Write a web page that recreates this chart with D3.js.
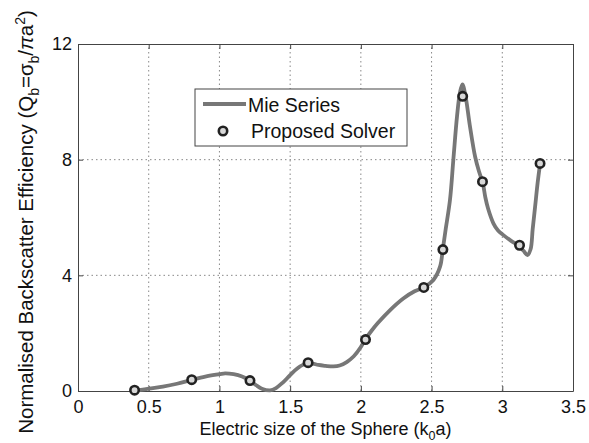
<!DOCTYPE html>
<html lang="en">
<head>
<meta charset="UTF-8">
<title>Backscatter efficiency</title>
<script src="https://d3js.org/d3.v7.min.js"></script>
<style>
  body { margin: 0; background: #fff; }
  svg { font-family: "Liberation Sans", Arial, sans-serif; }
  .grid line { stroke: #888; stroke-dasharray: 1.5 3; stroke-width: 1; }
  .tick-lbl { font-size: 18px; fill: #111; }
  .axis-title { fill: #111; }
  .legend text { font-size: 19.5px; fill: #111; }
</style>
</head>
<body>
<svg id="chart"></svg>
<script>
// Mie series (solid grey curve)
var mieX = [0.4, 0.5, 0.6, 0.7, 0.8, 0.9, 1.0, 1.04, 1.1, 1.16, 1.216, 1.26, 1.3, 1.358, 1.4, 1.45,
            1.5, 1.55, 1.6, 1.624, 1.66, 1.7, 1.75, 1.806, 1.85, 1.9, 1.95, 2.0, 2.03, 2.07, 2.12,
            2.207, 2.3, 2.38, 2.445, 2.513, 2.56, 2.579, 2.6, 2.63, 2.654, 2.68, 2.7, 2.718, 2.74,
            2.77, 2.808, 2.835, 2.862, 2.88, 2.9, 2.937, 2.97, 3.008, 3.06, 3.121, 3.15, 3.178,
            3.2, 3.215, 3.232, 3.25, 3.267];
var mieY = [0.0, 0.08, 0.15, 0.25, 0.38, 0.5, 0.58, 0.61, 0.58, 0.5, 0.36, 0.2, 0.08, 0.02, 0.1, 0.3,
            0.55, 0.78, 0.93, 0.97, 0.95, 0.9, 0.87, 0.85, 0.88, 1.0, 1.2, 1.52, 1.78, 2.05, 2.35,
            2.8, 3.2, 3.45, 3.58, 3.84, 4.3, 4.88, 5.6, 6.6, 8.0, 9.5, 10.3, 10.6, 10.2,
            9.2, 8.1, 7.6, 7.2, 6.7, 6.3, 5.8, 5.55, 5.39, 5.2, 5.0, 4.85, 4.7,
            4.9, 5.6, 6.37, 7.2, 7.85];

// Proposed solver (circle markers)
var solverX = [0.4, 0.804, 1.216, 1.627, 2.033, 2.445, 2.58, 2.72, 2.86, 3.122, 3.267];
var solverY = [0.03, 0.39, 0.36, 0.98, 1.78, 3.58, 4.89, 10.19, 7.24, 5.04, 7.87];

var xTicks = [0, 0.5, 1, 1.5, 2, 2.5, 3, 3.5];
var yTicks = [0, 4, 8, 12];

var width = 589, height = 443;
var m = { left: 78, right: 16, top: 44, bottom: 52 };

var svg = d3.select("#chart").attr("width", width).attr("height", height);

var x = d3.scaleLinear().domain([0, 3.5]).range([m.left, width - m.right]);
var y = d3.scaleLinear().domain([0, 12]).range([height - m.bottom, m.top]);

// grid
var grid = svg.append("g").attr("class", "grid");
grid.selectAll(".gx").data(xTicks.slice(1, -1)).enter().append("line")
    .attr("x1", d => x(d)).attr("x2", d => x(d))
    .attr("y1", y(0)).attr("y2", y(12));
grid.selectAll(".gy").data(yTicks.slice(1, -1)).enter().append("line")
    .attr("x1", x(0)).attr("x2", x(3.5))
    .attr("y1", d => y(d)).attr("y2", d => y(d));

// axes (MATLAB style: inward ticks, box)
var ax = d3.axisBottom(x).tickValues(xTicks).tickSizeInner(-5).tickSizeOuter(0)
    .tickPadding(9).tickFormat(d3.format("~g"));
var gx = svg.append("g").attr("transform", "translate(0," + y(0) + ")").call(ax);
var ay = d3.axisLeft(y).tickValues(yTicks).tickSizeInner(-5).tickSizeOuter(0)
    .tickPadding(10).tickFormat(d3.format("~g"));
var gy = svg.append("g").attr("transform", "translate(" + x(0) + ",0)").call(ay);
var axTop = d3.axisTop(x).tickValues(xTicks).tickSizeInner(-5).tickSizeOuter(0).tickFormat("");
svg.append("g").attr("transform", "translate(0," + y(12) + ")").call(axTop);
var ayR = d3.axisRight(y).tickValues(yTicks).tickSizeInner(-5).tickSizeOuter(0).tickFormat("");
svg.append("g").attr("transform", "translate(" + x(3.5) + ",0)").call(ayR);

svg.selectAll(".domain").attr("stroke", "#444");
svg.selectAll(".tick line").attr("stroke", "#444");
svg.selectAll(".tick text").attr("class", "tick-lbl").attr("font-family", null).attr("font-size", null);
gx.selectAll(".tick text").attr("dy", "0.71em");
gy.selectAll(".tick text").attr("dx", "4");

// Mie curve
var line = d3.line().x(d => x(d[0])).y(d => y(d[1])).curve(d3.curveCatmullRom);
svg.append("path")
    .datum(d3.zip(mieX, mieY))
    .attr("d", line)
    .attr("fill", "none")
    .attr("stroke", "#777")
    .attr("stroke-width", 3.8)
    .attr("stroke-linejoin", "round");

// solver markers
svg.selectAll(".pt").data(d3.zip(solverX, solverY)).enter().append("circle")
    .attr("cx", d => x(d[0])).attr("cy", d => y(d[1])).attr("r", 4.2)
    .attr("fill", "#d8d8d8").attr("stroke", "#222").attr("stroke-width", 2.6);

// legend
var lg = svg.append("g").attr("class", "legend");
lg.append("rect").attr("x", 195).attr("y", 89).attr("width", 212).attr("height", 57)
    .attr("fill", "#fff").attr("stroke", "#444");
lg.append("line").attr("x1", 203).attr("x2", 246).attr("y1", 104).attr("y2", 104)
    .attr("stroke", "#777").attr("stroke-width", 3.8);
lg.append("text").attr("x", 248).attr("y", 112).text("Mie Series");
lg.append("circle").attr("cx", 223).attr("cy", 131).attr("r", 4.2)
    .attr("fill", "#d8d8d8").attr("stroke", "#222").attr("stroke-width", 2.6);
lg.append("text").attr("x", 251).attr("y", 138).text("Proposed Solver");

// x title
var xt = svg.append("text").attr("class", "axis-title").attr("font-size", 18)
    .attr("x", (x(0) + x(3.5)) / 2).attr("y", 435).attr("text-anchor", "middle");
xt.append("tspan").text("Electric size of the Sphere (k");
xt.append("tspan").attr("dy", 5).attr("font-size", 12.5).text("0");
xt.append("tspan").attr("dy", -5).text("a)");

// y title
var yt = svg.append("text").attr("class", "axis-title").attr("font-size", 20.5)
    .attr("transform", "translate(33," + 222 + ") rotate(-90)")
    .attr("text-anchor", "middle");
yt.append("tspan").text("Normalised Backscatter Efficiency (Q");
yt.append("tspan").attr("dy", 6).attr("font-size", 14).text("b");
yt.append("tspan").attr("dy", -6).text("=σ");
yt.append("tspan").attr("dy", 6).attr("font-size", 14).text("b");
yt.append("tspan").attr("dy", -6).text("/");
yt.append("tspan").attr("font-style", "italic").text("π");
yt.append("tspan").text("a");
yt.append("tspan").attr("dy", -8).attr("font-size", 14).text("2");
yt.append("tspan").attr("dy", 8).text(")");
</script>
</body>
</html>
